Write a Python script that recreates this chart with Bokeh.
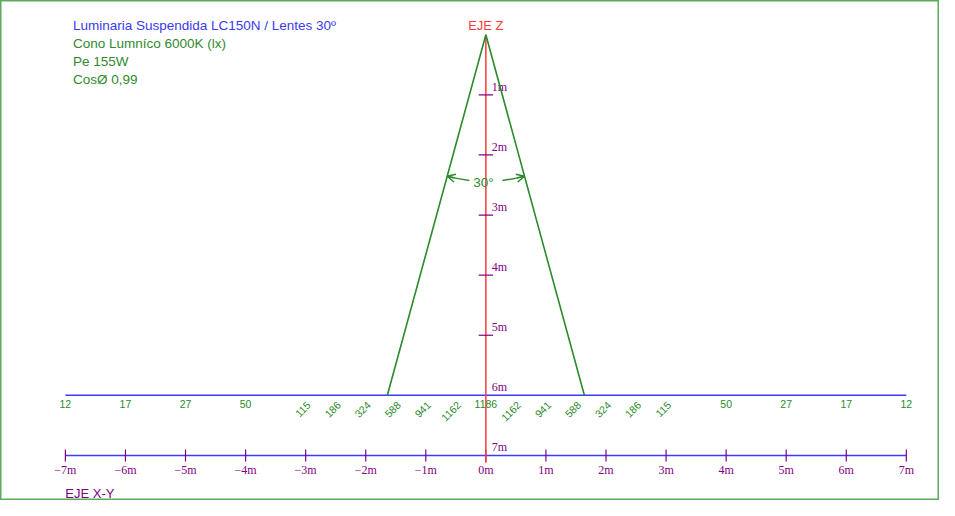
import math
from bokeh.plotting import figure
from bokeh.models import Range1d, Arrow, OpenHead
from bokeh.core.properties import value
from bokeh.embed import file_html
from bokeh.resources import INLINE

# ---- data ----
title_lines = ["Luminaria Suspendida LC150N / Lentes 30º",
               "Cono Lumníco 6000K (lx)",
               "Pe 155W",
               "CosØ 0,99"]
title_colors = ["#3a3af0", "#2f8a2f", "#2f8a2f", "#2f8a2f"]

lux_pos = [-7, -6, -5, -4, -3, -2.5, -2, -1.5, -1, -0.5, 0,
           0.5, 1, 1.5, 2, 2.5, 3, 4, 5, 6, 7]
lux_val = [12, 17, 27, 50, 115, 186, 324, 588, 941, 1162, 1186,
           1162, 941, 588, 324, 186, 115, 50, 27, 17, 12]

xy_ticks = [-7, -6, -5, -4, -3, -2, -1, 0, 1, 2, 3, 4, 5, 6, 7]
xy_labels = ["−7m", "−6m", "−5m", "−4m", "−3m", "−2m", "−1m", "0m",
             "1m", "2m", "3m", "4m", "5m", "6m", "7m"]
z_ticks = [1, 2, 3, 4, 5, 6, 7]
z_labels = ["1m", "2m", "3m", "4m", "5m", "6m", "7m"]

mount_height = 6.0      # floor distance (m)
cone_half_width = 1.64  # half-width of the cone at the floor (m)
beam_angle = 30         # degrees
arc_radius = 2.44       # radius of the angle marker (m)

BLUE = "#3b3bff"
RED = "#ff3b3b"
GREEN = "#2b8a2b"
PURPLE = "#800080"
BORDER = "#5cab5c"
SANS = value("Liberation Sans")
SERIF = value("Liberation Serif")

W, H = 939, 500
p = figure(width=W, height=H, output_backend="svg", toolbar_location=None,
           x_range=Range1d(-8.08, 7.552), y_range=Range1d(-7.75, 0.57),
           min_border=0, background_fill_color="white", border_fill_color="white")
p.xaxis.visible = False
p.yaxis.visible = False
p.grid.visible = False
p.outline_line_color = BORDER
p.outline_line_width = 2

# ---- lines (y = -z) ----
# floor line at mount height
p.line([xy_ticks[0], xy_ticks[-1]], [-mount_height, -mount_height], line_color=BLUE, line_width=1.5)
# X-Y axis at 7 m
axis_z = z_ticks[-1]
p.line([xy_ticks[0], xy_ticks[-1]], [-axis_z, -axis_z], line_color=BLUE, line_width=1.5)
p.segment(x0=xy_ticks, y0=[-axis_z + 0.1] * len(xy_ticks), x1=xy_ticks,
          y1=[-axis_z - 0.1] * len(xy_ticks), line_color=PURPLE, line_width=1.2)
p.text(x=xy_ticks, y=[-axis_z - 0.25] * len(xy_ticks), text=xy_labels,
       text_align="center", text_baseline="middle", text_color=PURPLE,
       text_font=SERIF, text_font_size="12px")

# Z axis
p.line([0, 0], [0, -axis_z - 0.12], line_color=RED, line_width=1.5)
zt = [z for z in z_ticks if z < mount_height]
p.segment(x0=[-0.12] * len(zt), y0=[-z for z in zt], x1=[0.12] * len(zt),
          y1=[-z for z in zt], line_color=PURPLE, line_width=1.2)
p.text(x=[0.1] * len(z_ticks), y=[-(z - 0.135) for z in z_ticks], text=z_labels,
       text_align="left", text_baseline="middle", text_color=PURPLE,
       text_font=SERIF, text_font_size="12px")

# cone
p.line([-cone_half_width, 0, cone_half_width], [-mount_height, 0, -mount_height],
       line_color=GREEN, line_width=1.6)

# angle marker
half = math.degrees(math.atan(cone_half_width / mount_height))
gap = 6.5
a_left = (270 - half, 270 - gap)
a_right = (270 + gap, 270 + half)
p.arc(x=[0, 0], y=[0, 0], radius=arc_radius,
      start_angle=[a_left[0], a_right[0]], end_angle=[a_left[1], a_right[1]],
      start_angle_units="deg", end_angle_units="deg",
      line_color=GREEN, line_width=1.5)
for tip, back in [(270 - half, 270 - half + 3), (270 + half, 270 + half - 3)]:
    tx, ty = arc_radius * math.cos(math.radians(tip)), arc_radius * math.sin(math.radians(tip))
    bx, by = arc_radius * math.cos(math.radians(back)), arc_radius * math.sin(math.radians(back))
    p.add_layout(Arrow(end=OpenHead(size=8, line_color=GREEN, line_width=1.5),
                       x_start=bx, y_start=by, x_end=tx, y_end=ty,
                       line_color=GREEN, line_width=1.5))
p.text(x=[-0.04], y=[-arc_radius - 0.02], text=[f"{beam_angle}°"],
       text_align="center", text_baseline="middle", text_color=GREEN,
       text_font=SANS, text_font_size="13.5px")

# lux values along the floor
flat_x, flat_t, rot_x, rot_t = [], [], [], []
for xv, lv in zip(lux_pos, lux_val):
    if 0 < abs(xv) <= 3:
        rot_x.append(xv + 0.05)
        rot_t.append(str(lv))
    else:
        flat_x.append(xv)
        flat_t.append(str(lv))
p.text(x=flat_x, y=[-6.15] * len(flat_x), text=flat_t, text_align="center",
       text_baseline="middle", text_color=GREEN, text_font=SANS, text_font_size="10.5px")
p.text(x=rot_x, y=[-6.13] * len(rot_x), text=rot_t, text_align="right",
       text_baseline="middle", text_color=GREEN, text_font=SANS, text_font_size="10.5px",
       angle=math.pi / 4)

# axis names
p.text(x=[0], y=[0.155], text=["EJE Z"], text_align="center", text_baseline="middle",
       text_color=RED, text_font=SANS, text_font_size="13px")
p.text(x=[-7], y=[-7.63], text=["EJE X-Y"], text_align="left", text_baseline="middle",
       text_color=PURPLE, text_font=SANS, text_font_size="13px")

# title block
tx0 = -6.875
ty = [0.155, -0.145, -0.445, -0.745]
p.text(x=[tx0] * 4, y=ty, text=title_lines, text_align="left", text_baseline="middle",
       text_color=title_colors, text_font=SANS, text_font_size="13.5px")

open("out.html", "w").write(file_html(p, INLINE))
